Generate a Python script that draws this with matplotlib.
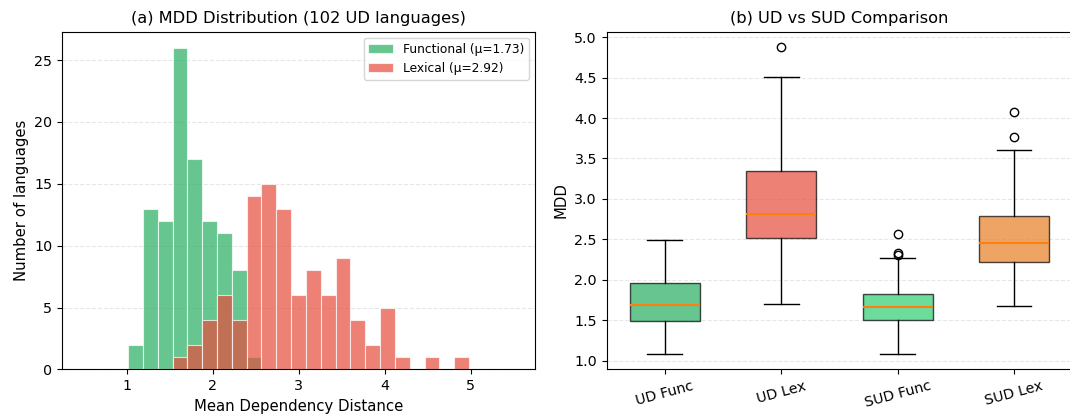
import numpy as np
import matplotlib
matplotlib.use("Agg")
import matplotlib.pyplot as plt

# ====== DATA ======
# histogram counts per bin (bins shared by both series)
bin_lo, bin_hi, n_bins = 0.5, 5.5, 29
func_counts = [0, 0, 0, 2, 13, 12, 26, 17, 12, 11, 8, 1, 0, 0, 0,
               0, 0, 0, 0, 0, 0, 0, 0, 0, 0, 0, 0, 0, 0]
lex_counts = [0, 0, 0, 0, 0, 0, 1, 2, 4, 6, 4, 14, 15, 13, 6,
              8, 6, 9, 4, 2, 5, 1, 0, 1, 0, 1, 0, 0, 0]
func_mean = 1.73
lex_mean = 2.92

# box statistics: whislo, q1, med, q3, whishi, fliers
box_labels = ["UD Func", "UD Lex", "SUD Func", "SUD Lex"]
box_whislo = [1.08, 1.70, 1.08, 1.68]
box_q1 = [1.49, 2.52, 1.50, 2.22]
box_med = [1.69, 2.81, 1.66, 2.45]
box_q3 = [1.96, 3.35, 1.82, 2.79]
box_whishi = [2.49, 4.51, 2.27, 3.60]
box_fliers = [[], [4.88], [2.30, 2.33, 2.57], [3.76, 4.08]]
box_colors = ["#27ae60", "#e74c3c", "#2ecc71", "#e67e22"]
# ==================

plt.rcParams["xtick.labelsize"] = 10.3
plt.rcParams["ytick.labelsize"] = 10.3

fig = plt.figure(figsize=(10.7, 4.16), dpi=100)
ax1 = fig.add_axes([0.058, 0.112, 0.442, 0.812])
ax2 = fig.add_axes([0.567, 0.112, 0.435, 0.812])

#--- (a) histogram
edges = np.linspace(bin_lo, bin_hi, n_bins + 1)
centers = (edges[:-1] + edges[1:]) / 2
ax1.hist(centers, bins=edges, weights=func_counts, color="#27ae60", alpha=0.7,
         edgecolor="white", linewidth=0.8, label=f"Functional (μ={func_mean:.2f})")
ax1.hist(centers, bins=edges, weights=lex_counts, color="#e74c3c", alpha=0.7,
         edgecolor="white", linewidth=0.8, label=f"Lexical (μ={lex_mean:.2f})")
ax1.set_xlabel("Mean Dependency Distance", fontsize=10.7)
ax1.set_ylabel("Number of languages", fontsize=10.7)
ax1.set_title("(a) MDD Distribution (102 UD languages)", fontsize=11.7)
ax1.legend(loc="upper right", fontsize=8.8)
ax1.grid(axis="y", linestyle="--", alpha=0.3)
ax1.set_axisbelow(True)

#--- (b) boxplot
stats = []
for i, name in enumerate(box_labels):
    stats.append(dict(label=name, whislo=box_whislo[i], q1=box_q1[i], med=box_med[i],
                      q3=box_q3[i], whishi=box_whishi[i], fliers=box_fliers[i]))
bp = ax2.bxp(stats, patch_artist=True, widths=0.6)
for patch, c in zip(bp["boxes"], box_colors):
    patch.set_facecolor(c)
    patch.set_alpha(0.7)
for med in bp["medians"]:
    med.set_color("#ff7f0e")
    med.set_linewidth(1.5)
ax2.set_ylabel("MDD", fontsize=10.7)
ax2.set_title("(b) UD vs SUD Comparison", fontsize=11.7)
ax2.grid(axis="y", linestyle="--", alpha=0.3)
ax2.set_axisbelow(True)
plt.setp(ax2.get_xticklabels(), rotation=15)

fig.savefig("out.png", dpi=100)
